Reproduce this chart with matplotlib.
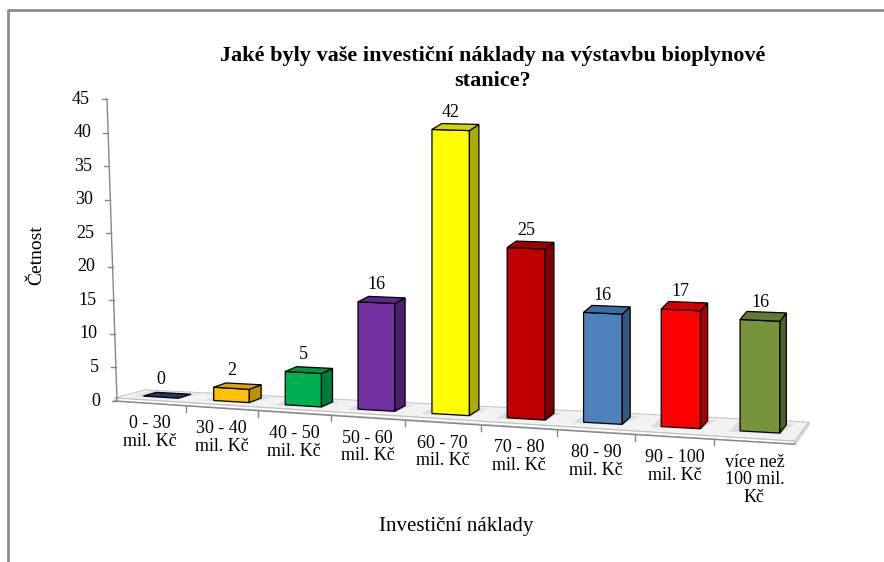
import matplotlib
matplotlib.use("Agg")
import matplotlib.pyplot as plt
from matplotlib.patches import Polygon

plt.rcParams['font.family'] = ['Liberation Serif', 'DejaVu Serif']

# data
categories = ["0 - 30\nmil. Kč", "30 - 40\nmil. Kč", "40 - 50\nmil. Kč", "50 - 60\nmil. Kč",
              "60 - 70\nmil. Kč", "70 - 80\nmil. Kč", "80 - 90\nmil. Kč", "90 - 100\nmil. Kč",
              "více než\n100 mil.\nKč"]
values = [0, 2, 5, 16, 42, 25, 16, 17, 16]
y_ticks = [0, 5, 10, 15, 20, 25, 30, 35, 40, 45]

front_colors = ["#1F3A5F", "#FFC000", "#00B050", "#7030A0", "#FFFF00",
                "#C00000", "#4F81BD", "#FF0000", "#77933C"]
side_colors = ["#16294A", "#BF9000", "#007A37", "#4B1F6E", "#AAAA00",
               "#7F0000", "#34577F", "#AA0000", "#4F6228"]
top_colors = ["#1F3A5F", "#D9A400", "#00943F", "#5E2888", "#D4D400",
              "#A00000", "#3F6C9E", "#D50000", "#637B31"]

W, H = 884, 562


# simple perspective-ish projection: u = category position, v = value, d = depth
def X0(u):
    return 115 + 70.05 * u + 0.61 * u * u


def Y0(u):
    return 401 + 4.8 * u


def P(u, v, d):
    dx = 22 - 1.3 * u
    dy = -6 - 0.9 * u
    s = 6.55 + 0.05 * u
    return (X0(u) + d * dx, Y0(u) - 3 + d * dy - v * s)


fig = plt.figure(figsize=(W / 100, H / 100), dpi=100)
ax = fig.add_axes([0, 0, 1, 1])
ax.set_xlim(0, W)
ax.set_ylim(H, 0)
ax.axis("off")

# frame (left and top edges)
ax.plot([8, 8, W], [H, 10, 10], color="#8C8C8C", lw=2, solid_capstyle="butt")

# floor
n = len(values)
floor_d = 1.35
floor = [P(0, 0, 0), P(n, 0, 0), P(n, 0, floor_d), P(0, 0, floor_d)]
ax.add_patch(Polygon(floor, closed=True, fc="#F2F2F2", ec="#C8C8C8", lw=0.8))
# floor slab front
slab = [(X0(0), Y0(0)), (X0(n), Y0(n)), P(n, 0, 0), P(0, 0, 0)]
ax.add_patch(Polygon(slab, closed=True, fc="#FFFFFF", ec="#BFBFBF", lw=0.8))
side_slab = [(X0(n), Y0(n)), P(n, 0, 0), P(n, 0, floor_d),
             (P(n, 0, floor_d)[0], P(n, 0, floor_d)[1] + 3)]
ax.add_patch(Polygon(side_slab, closed=True, fc="#FFFFFF", ec="#BFBFBF", lw=0.8))

# category axis line + ticks
us = [k / 10 for k in range(0, n * 10 + 1)]
ax.plot([X0(u) for u in us], [Y0(u) for u in us], color="#868686", lw=1)
for k in range(1, n):
    ax.plot([X0(k), X0(k)], [Y0(k), Y0(k) + 6], color="#868686", lw=1)

# bars
f, b = 0.5, 1.1
for i, v in enumerate(values):
    u0, u1 = i + 0.25, i + 0.75
    shadow = [P(u0 - 0.12, 0, f - 0.1), P(u1, 0, f - 0.1), P(u1 + 0.1, 0, b + 0.1), P(u0 - 0.12, 0, b + 0.1)]
    ax.add_patch(Polygon(shadow, closed=True, fc="#D0D0D0", ec="none", alpha=0.6))
    front = [P(u0, 0, f), P(u1, 0, f), P(u1, v, f), P(u0, v, f)]
    side = [P(u1, 0, f), P(u1, 0, b), P(u1, v, b), P(u1, v, f)]
    top = [P(u0, v, f), P(u1, v, f), P(u1, v, b), P(u0, v, b)]
    if v > 0:
        ax.add_patch(Polygon(front, closed=True, fc=front_colors[i], ec="black", lw=0.9))
        ax.add_patch(Polygon(side, closed=True, fc=side_colors[i], ec="black", lw=0.9))
    ax.add_patch(Polygon(top, closed=True, fc=top_colors[i], ec="black", lw=0.9))
    tx, ty = P(i + 0.5, v, f)
    ax.text(tx, ty - 18, str(v), ha="center", va="center", fontsize=13)

# category labels
for i, lab in enumerate(categories):
    u = i + 0.5
    ax.text(X0(u), Y0(u) + 12, lab, ha="center", va="top", fontsize=13, linespacing=1.05)

# value axis (slightly leaning)
ax_scale = 6.71
ax_x0, ax_y0 = 117, 401


def A(v):
    return (ax_x0 - 0.222 * v, ax_y0 - ax_scale * v)


ax.plot([A(0)[0], A(45)[0]], [A(0)[1], A(45)[1]], color="#868686", lw=1)
for t in y_ticks:
    x, y = A(t)
    ax.plot([x - 5, x], [y, y], color="#868686", lw=1)
    ax.text(x - 17, y, str(t), ha="right", va="center", fontsize=13)

# titles
ax.text(493, 61, "Jaké byly vaše investiční náklady na výstavbu bioplynové",
        ha="center", va="baseline", fontsize=16, fontweight="bold")
ax.text(493, 86, "stanice?", ha="center", va="baseline", fontsize=16, fontweight="bold")
ax.text(37, 255, "Četnost", ha="center", va="center", rotation=90, fontsize=14)
ax.text(456, 531, "Investiční náklady", ha="center", va="baseline", fontsize=15)

fig.savefig("out.png", dpi=100)
